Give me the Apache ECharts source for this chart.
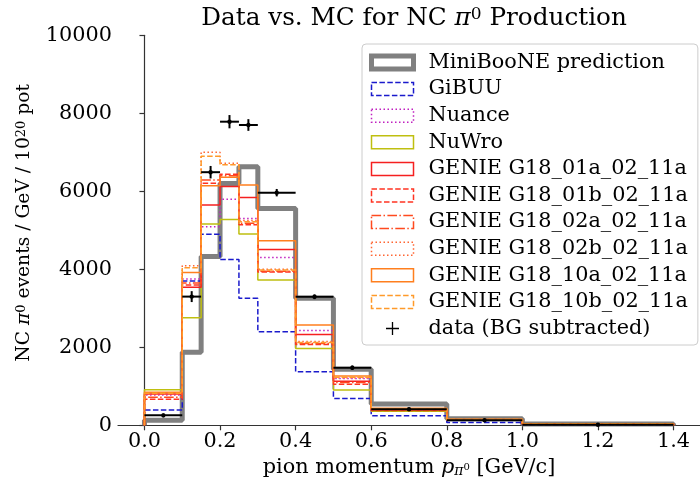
<!DOCTYPE html>
<html>
<head>
<meta charset="utf-8">
<script src="https://cdn.jsdelivr.net/npm/echarts@6/dist/echarts.min.js"></script>
<style>html,body{margin:0;padding:0;background:#fff;}#c{width:700px;height:484px;}</style>
</head>
<body>
<div id="c"></div>
<script>
// ---- data ----
const edges = [0, 0.1, 0.15, 0.2, 0.25, 0.3, 0.4, 0.5, 0.6, 0.8, 1.0, 1.4];
const miniboone = [130, 1870, 4330, 6200, 6630, 5560, 3255, 1440, 545, 165, 35];
const gibuu     = [390, 3700, 4900, 4250, 3255, 2400, 1375, 690, 245, 75, 20];
const nuance    = [780, 3750, 5090, 5795, 5300, 4300, 2430, 1200, 400, 140, 35];
const nuwro     = [910, 2760, 5160, 5280, 4905, 3725, 1970, 905, 360, 135, 30];
const g01a      = [800, 3540, 5650, 6120, 5840, 4510, 2330, 1130, 395, 145, 35];
const g01b      = [670, 3600, 6205, 6440, 5140, 3930, 2075, 1050, 380, 140, 35];
const g02a      = [720, 3650, 6290, 6400, 5180, 3950, 2100, 1100, 385, 140, 35];
const g02b      = [800, 4090, 7000, 6720, 5250, 4000, 2150, 1220, 410, 150, 40];
const g10a      = [850, 3920, 6140, 6360, 6160, 4730, 2575, 1265, 435, 155, 40];
const g10b      = [820, 4040, 6900, 6680, 5220, 3980, 2120, 1230, 420, 150, 40];
const dataX     = [0.05, 0.125, 0.175, 0.225, 0.275, 0.35, 0.45, 0.55, 0.7, 0.9, 1.2];
const dataY     = [255, 3300, 6490, 7785, 7700, 5965, 3295, 1477, 410, 128, 15];
const dataXErr  = [0.05, 0.025, 0.025, 0.025, 0.025, 0.05, 0.05, 0.05, 0.1, 0.1, 0.2];
const dataYErr  = [50, 140, 160, 170, 150, 95, 60, 55, 40, 30, 10];
const xTicks    = [0, 0.2, 0.4, 0.6, 0.8, 1.0, 1.2, 1.4];

const FONT = 'DejaVu Serif';
const FS = 20.8;
const YFS = 18.7;
const DASH = [5.5, 2.4], DOT = [1.5, 2.5], DASHDOT = [9.6, 2.4, 1.5, 2.4];

const histDefs = [
  {name: 'MiniBooNE prediction', vals: miniboone, color: '#808080', width: 5, dash: 'solid'},
  {name: 'GiBUU', vals: gibuu, color: '#1a1acc', width: 1.5, dash: DASH},
  {name: 'Nuance', vals: nuance, color: '#c020c0', width: 1.5, dash: DOT},
  {name: 'NuWro', vals: nuwro, color: '#bfbf10', width: 1.5, dash: 'solid'},
  {name: 'GENIE G18_01a_02_11a', vals: g01a, color: '#f52020', width: 1.5, dash: 'solid'},
  {name: 'GENIE G18_01b_02_11a', vals: g01b, color: '#ff3322', width: 1.5, dash: DASH},
  {name: 'GENIE G18_02a_02_11a', vals: g02a, color: '#ff4a1f', width: 1.5, dash: DASHDOT},
  {name: 'GENIE G18_02b_02_11a', vals: g02b, color: '#ff6633', width: 1.5, dash: DOT},
  {name: 'GENIE G18_10a_02_11a', vals: g10a, color: '#ff7f1e', width: 1.5, dash: 'solid'},
  {name: 'GENIE G18_10b_02_11a', vals: g10b, color: '#ff9a2a', width: 1.5, dash: DASH}
];

function stepPoints(vals) {
  const pts = [[edges[0], 0]];
  vals.forEach((v, i) => { pts.push([edges[i], v]); pts.push([edges[i + 1], v]); });
  pts.push([edges[edges.length - 1], 0]);
  return pts;
}

const series = histDefs.map((d, i) => ({
  name: d.name, type: 'line', data: stepPoints(d.vals), showSymbol: false, symbol: 'none',
  lineStyle: {color: d.color, width: d.width, type: d.dash}, itemStyle: {color: d.color},
  z: 2 + i, animation: false, silent: true
}));

series.push({
  name: 'data (BG subtracted)', type: 'custom', z: 20, animation: false, silent: true,
  itemStyle: {color: '#000'},
  data: dataX.map((x, i) => [x, dataY[i], dataXErr[i], dataYErr[i]]),
  renderItem: function (params, api) {
    const x = api.value(0), y = api.value(1), xe = api.value(2), ye = api.value(3);
    const l = api.coord([x - xe, y]), r = api.coord([x + xe, y]);
    const t = api.coord([x, y + ye]), b = api.coord([x, y - ye]);
    const c = api.coord([x, y]);
    const st = {stroke: '#000', lineWidth: 2};
    return {type: 'group', children: [
      {type: 'line', shape: {x1: l[0], y1: l[1], x2: r[0], y2: r[1]}, style: st},
      {type: 'line', shape: {x1: t[0], y1: t[1], x2: b[0], y2: b[1]}, style: st},
      {type: 'circle', shape: {cx: c[0], cy: c[1], r: 2.2}, style: {fill: '#000'}}
    ]};
  }
});

const legendData = histDefs.map(d => ({
  name: d.name, icon: 'rect',
  itemStyle: {color: 'rgba(0,0,0,0)', borderColor: d.color, borderWidth: d.width === 5 ? 5 : 1.5,
              borderType: d.dash}
}));
legendData.push({name: 'data (BG subtracted)',
  icon: 'path://M9,0 H11 V9 H20 V11 H11 V20 H9 V11 H0 V9 H9 Z',
  itemStyle: {color: '#000', borderWidth: 0}});

const chart = echarts.init(document.getElementById('c'), null, {renderer: 'canvas'});
chart.setOption({
  backgroundColor: '#fff',
  animation: false,
  title: {
    text: 'Data vs. MC for NC {i|π}{sup|0} Production',
    left: 409, top: 1, textAlign: 'center',
    textStyle: {fontFamily: FONT, fontSize: 24.7, fontWeight: 'normal', color: '#000',
      rich: {i: {fontFamily: FONT, fontStyle: 'italic', fontSize: 24.7, color: '#000'},
             sup: {fontFamily: FONT, fontSize: 17, verticalAlign: 'top', color: '#000'}}}
  },
  grid: {left: 118, top: 35.3, width: 589.5, height: 390, containLabel: false},
  xAxis: {
    type: 'value', min: -0.07, max: 1.47,
    name: 'pion momentum {i|p}{sub|π}{subsup|0} [GeV/c]',
    nameLocation: 'middle', nameGap: 32,
    nameTextStyle: {fontFamily: FONT, fontSize: FS, color: '#000',
      rich: {i: {fontFamily: FONT, fontStyle: 'italic', fontSize: FS, color: '#000'},
             sub: {fontFamily: FONT, fontStyle: 'italic', fontSize: 14, verticalAlign: 'bottom', color: '#000'},
             subsup: {fontFamily: FONT, fontSize: 10, verticalAlign: 'middle', color: '#000'}}},
    axisLine: {show: true, lineStyle: {color: '#333', width: 1.2}},
    axisTick: {show: true, length: 5, lineStyle: {color: '#333', width: 1.2}, customValues: xTicks},
    axisLabel: {fontFamily: FONT, fontSize: FS, color: '#000', margin: 6, customValues: xTicks,
      formatter: v => v.toFixed(1)},
    splitLine: {show: false}
  },
  yAxis: {
    type: 'value', min: 0, max: 10000, interval: 2000,
    name: '{a|NC }{i|π}{sup|0}{a| events / GeV / 10}{sup|20}{a| pot}',
    nameLocation: 'middle', nameGap: 84, nameRotate: 90,
    nameTextStyle: {fontFamily: FONT, fontSize: YFS, color: '#000', padding: [0, 0, 0, 15],
      rich: {a: {fontFamily: FONT, fontSize: YFS, color: '#000'},
             i: {fontFamily: FONT, fontStyle: 'italic', fontSize: YFS, color: '#000'},
             sup: {fontFamily: FONT, fontSize: 13, verticalAlign: 'top', color: '#000'}}},
    axisLine: {show: true, lineStyle: {color: '#333', width: 1.2}},
    axisTick: {show: true, length: 5, lineStyle: {color: '#333', width: 1.2}},
    axisLabel: {fontFamily: FONT, fontSize: FS, color: '#000', margin: 6,
      formatter: v => String(v)},
    splitLine: {show: false}
  },
  legend: {
    orient: 'vertical', left: 362, top: 44,
    padding: [8, 10, 6, 7],
    itemWidth: 42, itemHeight: 13, itemGap: 5.6,
    backgroundColor: 'rgba(255,255,255,0.85)', borderColor: '#cccccc', borderWidth: 1, borderRadius: 4,
    textStyle: {fontFamily: FONT, fontSize: FS, color: '#000', padding: [0, 0, 0, 10]},
    data: legendData,
    selectedMode: false
  },
  series: series
});
</script>
</body>
</html>
